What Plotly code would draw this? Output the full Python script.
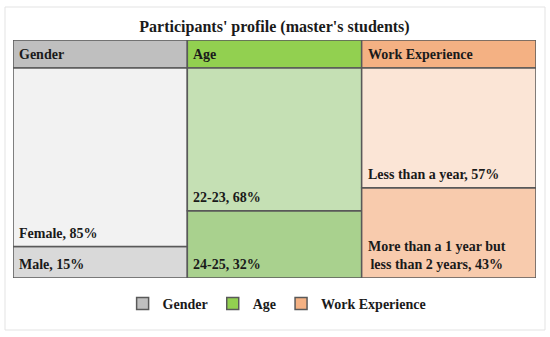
import plotly.graph_objects as go

# ---- data ----
groups = ["Gender", "Age", "Work Experience"]
bottom_labels = ["Male", "24-25", "More than a 1 year but<br>less than 2 years"]
bottom_values = [15, 32, 43]
top_labels = ["Female", "22-23", "Less than a year"]
top_values = [85, 68, 57]

# ---- styles ----
header_colors = ["#BFBFBF", "#92D050", "#F4B183"]
top_colors = ["#F2F2F2", "#C5E0B4", "#FBE5D6"]
bottom_colors = ["#D9D9D9", "#A9D18E", "#F8CBAD"]
HEADER_H = 100 * 28 / 210
FONT = "Liberation Serif"
LINE = "#595959"
TXT = "#1a1a1a"

fig = go.Figure()
for i, g in enumerate(groups):
    total = bottom_values[i] + top_values[i]
    fig.add_trace(go.Bar(
        name=g,
        x=[i, i, i],
        y=[HEADER_H, bottom_values[i], top_values[i]],
        base=[total, 0, bottom_values[i]],
        width=1,
        marker=dict(color=[header_colors[i], bottom_colors[i], top_colors[i]],
                    line=dict(color=LINE, width=1.5)),
        hoverinfo="skip",
    ))

    lab_font = dict(family=FONT, size=14, color=TXT, weight="bold")
    # header label
    fig.add_annotation(x=i - 0.5, y=total + HEADER_H / 2, text=g,
                       xanchor="left", yanchor="middle", xshift=4,
                       showarrow=False, font=lab_font)
    # bottom segment label
    fig.add_annotation(x=i - 0.5, y=0,
                       text=f"{bottom_labels[i]}, {bottom_values[i]}%",
                       xanchor="left", yanchor="bottom", xshift=4, yshift=4, align="center",
                       showarrow=False, font=lab_font)
    # top segment label
    fig.add_annotation(x=i - 0.5, y=bottom_values[i],
                       text=f"{top_labels[i]}, {top_values[i]}%",
                       xanchor="left", yanchor="bottom", xshift=4, yshift=4,
                       showarrow=False, font=lab_font)

# outer light frame
fig.add_shape(type="rect", xref="paper", yref="paper",
              x0=(5 - 13) / 523, x1=(545 - 13) / 523,
              y0=(278 - 330) / 238, y1=(278 - 7) / 238,
              line=dict(color="#E3E3E3", width=1), fillcolor="rgba(0,0,0,0)", layer="below")

fig.update_layout(
    width=550, height=337,
    margin=dict(l=13, r=14, t=40, b=59),
    paper_bgcolor="white", plot_bgcolor="white",
    barmode="overlay",
    title=dict(text="Participants' profile (master's students)", x=274.5 / 550, xanchor="center",
               y=1 - 26 / 337, yanchor="middle",
               font=dict(family=FONT, size=16, color=TXT, weight="bold")),
    xaxis=dict(range=[-0.5, 2.5], visible=False, fixedrange=True),
    yaxis=dict(range=[0, 100 + HEADER_H], visible=False, fixedrange=True),
    showlegend=True,
    legend=dict(orientation="h", x=0.505, xanchor="center", y=-0.109, yanchor="middle",
                font=dict(family=FONT, size=14, color=TXT, weight="bold"),
                traceorder="normal", itemclick=False, itemdoubleclick=False),
)

fig.write_html("out.html", config={"displayModeBar": False},
               post_script="document.body.style.margin='0';document.body.style.padding='0';")
